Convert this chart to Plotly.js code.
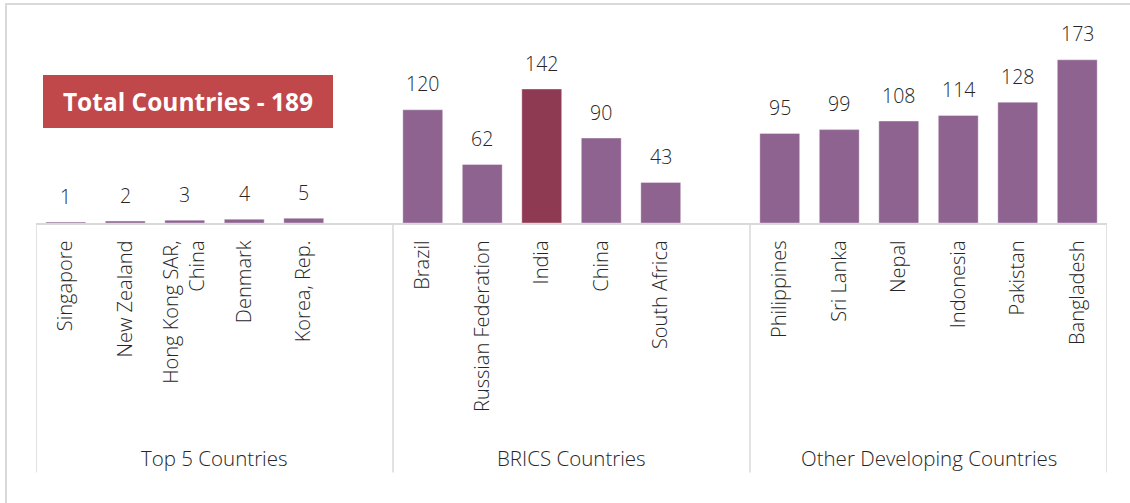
<!DOCTYPE html>
<html>
<head>
<meta charset="utf-8">
<script src="https://cdn.plot.ly/plotly-3.0.1.min.js"></script>
<style>html,body{margin:0;padding:0;background:#fff;}#chart{width:1130px;height:503px;}</style>
</head>
<body>
<div id="chart"></div>
<script>
const groups = ['Top 5 Countries', 'BRICS Countries', 'Other Developing Countries'];
const top5Names = ['Singapore', 'New Zealand', 'Hong Kong SAR,<br>China', 'Denmark', 'Korea, Rep.'];
const top5Values = [1, 2, 3, 4, 5];
const bricsNames = ['Brazil', 'Russian Federation', 'India', 'China', 'South Africa'];
const bricsValues = [120, 62, 142, 90, 43];
const otherNames = ['Philippines', 'Sri Lanka', 'Nepal', 'Indonesia', 'Pakistan', 'Bangladesh'];
const otherValues = [95, 99, 108, 114, 128, 173];
const highlightName = 'India';
const totalLabel = 'Total Countries - 189';

const PURPLE = '#8E6390';
const WINE = '#8E3A53';
const TXT = '#262626';
const LINE = '#d9d9d9';
const FONT = 'Open Sans, Noto Sans, sans-serif';
const SLOTS = 6;

// assemble category axis (each group padded to 6 slots)
const cats = [], vals = [], colors = [], labelIdx = [], groupStart = [];
const sets = [[top5Names, top5Values], [bricsNames, bricsValues], [otherNames, otherValues]];
sets.forEach(function (s, g) {
  const names = s[0], v = s[1];
  groupStart.push(cats.length);
  for (let k = 0; k < SLOTS; k++) {
    if (k < names.length) {
      cats.push(names[k]);
      vals.push(v[k]);
      colors.push(names[k] === highlightName ? WINE : PURPLE);
      labelIdx.push(cats.length - 1);
    } else {
      cats.push('\u00a0'.repeat(g + 1));
      vals.push(0);
      colors.push('rgba(0,0,0,0)');
    }
  }
});

const trace = {
  type: 'bar',
  x: cats,
  y: vals,
  width: 0.67,
  marker: { color: colors, line: { color: 'rgba(255,255,255,0.35)', width: 1 } },
  hoverinfo: 'skip'
};

const mL = 36, mR = 23, mT = 20, mB = 280;
const W = 1130, H = 503;
const pw = W - mL - mR, ph = H - mT - mB;
const px = function (p) { return (p - mL) / pw; };
const py = function (p) { return (H - mB - p) / ph; };

const annotations = labelIdx.map(function (i) {
  return {
    x: i, y: vals[i], xref: 'x', yref: 'y',
    text: String(vals[i]), showarrow: false,
    xanchor: 'center', yanchor: 'middle', yshift: 26,
    font: { family: FONT, size: 19.5, color: TXT, weight: 300 }
  };
});

groups.forEach(function (gname, g) {
  annotations.push({
    x: groupStart[g] + (SLOTS - 1) / 2, xref: 'x',
    y: py(458), yref: 'paper',
    text: gname, showarrow: false, xanchor: 'center', yanchor: 'middle',
    font: { family: FONT, size: 20.5, color: TXT, weight: 300 }
  });
});

annotations.push({
  xref: 'paper', yref: 'paper', x: px(188), y: py(101.5),
  xanchor: 'center', yanchor: 'middle',
  text: '<b>' + totalLabel + '</b>', showarrow: false,
  bgcolor: '#C0474A', width: 290, height: 53, borderpad: 0, borderwidth: 0,
  font: { family: FONT, size: 24.5, color: '#ffffff' }
});

const shapes = [{
  type: 'rect', xref: 'paper', yref: 'paper',
  x0: px(6), x1: px(1140), y0: py(512), y1: py(4),
  line: { color: LINE, width: 2 }, fillcolor: 'rgba(0,0,0,0)', layer: 'below'
}];
groupStart.concat([cats.length]).forEach(function (b) {
  shapes.push({
    type: 'line', xref: 'x', yref: 'paper',
    x0: b - 0.5, x1: b - 0.5, y0: 0, y1: py(472.5),
    line: { color: LINE, width: 1.5 }
  });
});

const layout = {
  width: W, height: H,
  margin: { l: mL, r: mR, t: mT, b: mB },
  paper_bgcolor: '#ffffff', plot_bgcolor: '#ffffff',
  showlegend: false,
  font: { family: FONT, size: 19, color: TXT },
  xaxis: {
    type: 'category', categoryorder: 'array', categoryarray: cats,
    range: [-0.5, cats.length - 0.5],
    showline: true, linecolor: LINE, linewidth: 1.5,
    tickangle: -90, ticklabelstandoff: 8,
    ticks: '', showgrid: false, zeroline: false,
    tickfont: { family: FONT, size: 20, color: TXT, weight: 300 },
    fixedrange: true
  },
  yaxis: {
    range: [0, 215.2], visible: false, showgrid: false, zeroline: false, fixedrange: true
  },
  annotations: annotations,
  shapes: shapes
};

Plotly.newPlot('chart', [trace], layout, { displayModeBar: false, staticPlot: true });
</script>
</body>
</html>
